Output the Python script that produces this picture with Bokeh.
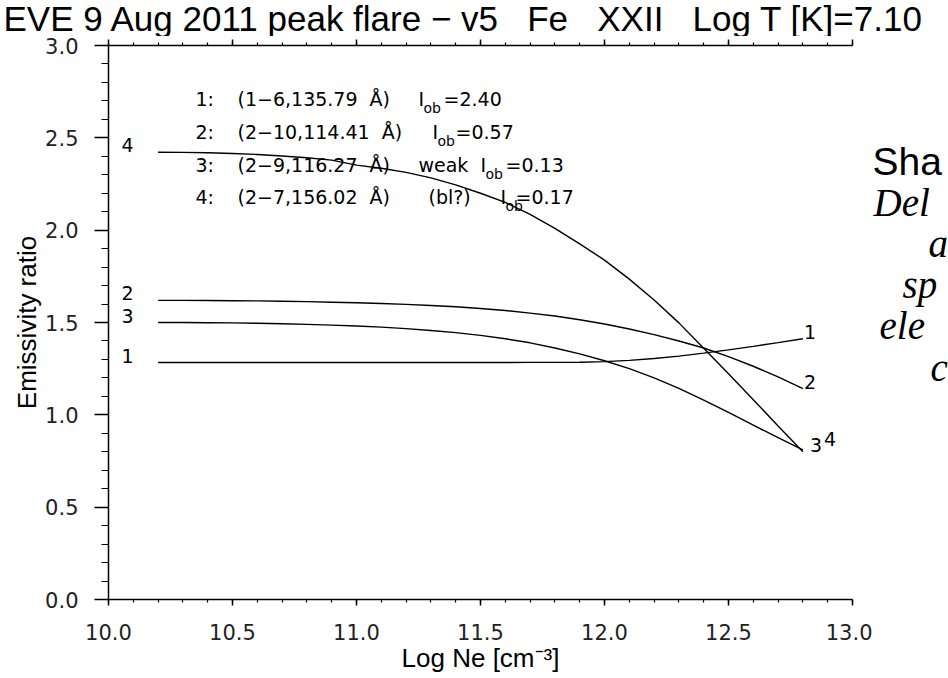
from bokeh.plotting import figure
from bokeh.layouts import column, row
from bokeh.models import (LinearAxis, SingleIntervalTicker, Range1d,
                          PrintfTickFormatter, ColumnDataSource)
from bokeh.core.properties import value
from bokeh.embed import file_html
from bokeh.resources import INLINE

# ---------------- data ----------------
log_ne = [10.2, 10.3, 10.4, 10.5, 10.6, 10.7, 10.8, 10.9, 11.0, 11.1, 11.2, 11.3, 11.4,
          11.5, 11.6, 11.7, 11.8, 11.9, 12.0, 12.1, 12.2, 12.3, 12.4, 12.5, 12.6, 12.7, 12.8]

ratio_1 = [1.283, 1.283, 1.283, 1.283, 1.283, 1.283, 1.283, 1.283, 1.283, 1.283, 1.283, 1.283, 1.283,
           1.283, 1.283, 1.284, 1.284, 1.285, 1.288, 1.295, 1.305, 1.318, 1.334, 1.352, 1.371, 1.391, 1.412]
ratio_2 = [1.620, 1.620, 1.619, 1.618, 1.617, 1.615, 1.613, 1.610, 1.607, 1.603, 1.598, 1.592, 1.585,
           1.576, 1.565, 1.551, 1.535, 1.515, 1.492, 1.465, 1.434, 1.400, 1.362, 1.315, 1.263, 1.205, 1.142]
ratio_3 = [1.500, 1.500, 1.499, 1.498, 1.496, 1.493, 1.490, 1.486, 1.481, 1.475, 1.467, 1.457, 1.445,
           1.430, 1.412, 1.390, 1.362, 1.330, 1.293, 1.250, 1.200, 1.143, 1.080, 1.013, 0.944, 0.876, 0.810]
ratio_4 = [2.422, 2.421, 2.419, 2.415, 2.410, 2.402, 2.392, 2.379, 2.352, 2.335, 2.313, 2.283, 2.245,
           2.200, 2.150, 2.085, 2.010, 1.926, 1.838, 1.735, 1.622, 1.498, 1.360, 1.222, 1.082, 0.940, 0.800]

NB = "\u00a0"
curve_ids = ["1", "2", "3", "4"]
line_nums = ["1:", "2:", "3:", "4:"]
line_trans = ["(1\u22126,135.79" + NB + " \u00c5)", "(2\u221210,114.41" + NB + " \u00c5)",
              "(2\u22129,116.27" + NB + " \u00c5)", "(2\u22127,156.02" + NB + " \u00c5)"]
line_notes = ["", "", "weak", "(bl?)"]
i_ob_values = ["2.40", "0.57", "0.13", "0.17"]

GAP = NB + NB + " "
title_text = ("EVE 9 Aug 2011 peak flare \u2212 v5" + GAP + "Fe" + GAP + "XXII" + GAP +
              "Log T [K]=7.10")
x_label = "Log Ne [cm\u207b\u00b3]"
y_label = "Emissivity ratio"
side_sans = ["Sha"]
side_italic = ["Del", "a", "sp", "ele", "c"]

# ---------------- geometry (picture pixels) ----------------
W, H = 948, 678
TITLE_H = 36
MAIN_W = 872
FRAME_L, FRAME_R, FRAME_T, FRAME_B = 108, 852, 45, 599


def px_x(px):
    return 10.0 + (px - FRAME_L) * 3.0 / (FRAME_R - FRAME_L)


def px_y(py):
    return (FRAME_B - py) * 3.0 / (FRAME_B - FRAME_T)


def rise(size):
    # the SVG text glyphs land ~0.37 em below the requested baseline: lift them back
    return -round(0.37 * size)


FONT = value("DejaVu Sans")


def blank_fig(w, h, xr, yr):
    f = figure(width=w, height=h, x_range=xr, y_range=yr, title=None,
               output_backend="svg", toolbar_location=None,
               x_axis_location=None, y_axis_location=None,
               min_border_left=0, min_border_right=0, min_border_top=0, min_border_bottom=0)
    f.outline_line_color = None
    f.grid.visible = False
    f.background_fill_color = "white"
    f.border_fill_color = "white"
    return f


# ---------------- title strip ----------------
tf = blank_fig(W, TITLE_H, Range1d(0, W), Range1d(0, TITLE_H))
tf.text(x=[3], y=[TITLE_H - 30.5], text=[title_text], text_font=value("Liberation Sans"),
        text_font_size="35px", y_offset=rise(35),
        text_baseline="alphabetic", text_align="left", text_color="black")

# ---------------- main plot ----------------
MAIN_H = H - TITLE_H
p = figure(width=MAIN_W, height=MAIN_H, x_range=Range1d(10, 13), y_range=Range1d(0, 3),
           title=None, output_backend="svg", toolbar_location=None,
           x_axis_location=None, y_axis_location=None,
           min_border_left=FRAME_L, min_border_right=MAIN_W - FRAME_R,
           min_border_top=FRAME_T - TITLE_H, min_border_bottom=H - FRAME_B)
p.outline_line_color = None
p.grid.visible = False
p.background_fill_color = "white"
p.border_fill_color = "white"


def style_axis(ax, tick_out, minor_out):
    ax.axis_line_color = "black"
    ax.axis_line_width = 1.5
    ax.major_tick_in = 0
    ax.major_tick_out = tick_out
    ax.minor_tick_in = 0
    ax.minor_tick_out = minor_out
    ax.major_tick_line_color = "black"
    ax.minor_tick_line_color = "black"
    ax.major_tick_line_width = 1.5
    ax.minor_tick_line_width = 1.2
    ax.major_label_text_font = "DejaVu Sans"
    ax.major_label_text_font_size = "21px"
    ax.major_label_text_color = "#222222"
    ax.axis_label_text_font = "Liberation Sans"
    ax.axis_label_text_font_size = "26px"
    ax.axis_label_text_font_style = "normal"
    ax.axis_label_text_color = "black"


xb = LinearAxis(ticker=SingleIntervalTicker(interval=0.5, num_minor_ticks=5),
                formatter=PrintfTickFormatter(format="%.1f"), axis_label=x_label)
style_axis(xb, 6, 3)
xb.major_label_standoff = 18
xb.axis_label_standoff = 0
p.add_layout(xb, "below")

yl = LinearAxis(ticker=SingleIntervalTicker(interval=0.5, num_minor_ticks=5),
                formatter=PrintfTickFormatter(format="%.1f"), axis_label=y_label)
style_axis(yl, 14, 7)
yl.major_label_standoff = 16
yl.axis_label_standoff = 0
p.add_layout(yl, "left")

xt = LinearAxis(ticker=SingleIntervalTicker(interval=0.5, num_minor_ticks=5),
                formatter=PrintfTickFormatter(format=""))
style_axis(xt, 6, 3)
xt.major_label_standoff = 0
p.add_layout(xt, "above")

# ---------------- curves ----------------
curves = [ratio_1, ratio_2, ratio_3, ratio_4]
for r in curves:
    p.line(log_ne, r, line_color="black", line_width=1.4)

left_src = ColumnDataSource(dict(x=[px_x(121)] * 4, y=[c[0] for c in curves], t=curve_ids))
p.text(x="x", y="y", text="t", source=left_src, y_offset=rise(19), text_font=FONT,
       text_font_size="19px", text_baseline="alphabetic", text_align="left", text_color="black")
right_src = ColumnDataSource(dict(x=[log_ne[-1]] * 4, y=[c[-1] for c in curves], t=curve_ids,
                                  xo=[1, 1, 7, 21],
                                  yo=[rise(19), rise(19), rise(19) + 2, rise(19) - 6]))
p.text(x="x", y="y", text="t", source=right_src, x_offset="xo", y_offset="yo",
       text_font=FONT, text_font_size="19px", text_baseline="alphabetic",
       text_align="left", text_color="black")

# ---------------- in-plot annotation block ----------------
base_px = [105.5, 138.2, 171.0, 203.5]
by = [px_y(b) for b in base_px]
note_px = [0, 0, 418, 428]
i_px = [418, 432, 480, 500]
val_px = [443, 455, 505, 515]

blk = dict(text_font=FONT, text_font_size="19px", text_baseline="alphabetic",
           text_align="left", text_color="black", y_offset=rise(19))
p.text(x=[px_x(195)] * 4, y=by, text=line_nums, **blk)
p.text(x=[px_x(237)] * 4, y=by, text=line_trans, **blk)
p.text(x=[px_x(v) for v in note_px[2:]], y=by[2:], text=line_notes[2:], **blk)
p.text(x=[px_x(v) for v in i_px], y=by, text=["I"] * 4, **blk)
p.text(x=[px_x(v + 5) for v in i_px], y=by, text=["ob"] * 4, y_offset=7 + rise(14),
       text_font=FONT, text_font_size="14px", text_baseline="alphabetic",
       text_align="left", text_color="black")
p.text(x=[px_x(v) for v in val_px], y=by, text=["=" + v for v in i_ob_values], **blk)

# ---------------- clipped slide text at right ----------------
SIDE_W = W - MAIN_W
sf = blank_fig(SIDE_W, MAIN_H, Range1d(0, SIDE_W), Range1d(0, 3))
sf.text(x=[872 - MAIN_W], y=[px_y(175)], text=side_sans, text_font=value("Liberation Sans"),
        text_font_size="39px", y_offset=rise(39), text_baseline="alphabetic",
        text_align="left", text_color="black")
it_x = [873, 928, 902, 879, 930]
it_base = [216, 257, 298, 339, 381]
sf.text(x=[v - MAIN_W for v in it_x], y=[px_y(b) for b in it_base], text=side_italic,
        text_font=value("Liberation Serif"), text_font_size="39px", text_font_style="italic",
        y_offset=rise(39), text_baseline="alphabetic", text_align="left", text_color="black")

layout = column(tf, row(p, sf, spacing=0), spacing=0)
open("out.html", "w").write(file_html(layout, INLINE))
